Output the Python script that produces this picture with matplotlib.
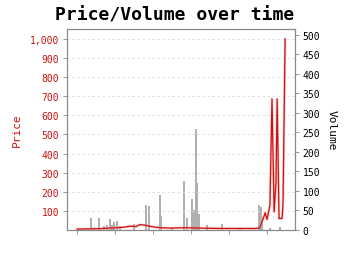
import matplotlib
matplotlib.use("Agg")
import matplotlib.pyplot as plt
from matplotlib.ticker import FuncFormatter

# Price series (day index, price)
price_days = [0, 12, 17, 21, 25, 28, 31, 33, 36, 38, 41, 44, 49, 57, 65, 75, 86, 94, 96,
              98, 99, 100, 101.5, 102.6, 103.7, 104.7, 105.3, 106.3, 107.9, 108.4, 109.5]
price_vals = [5, 7, 10, 12, 15, 20, 18, 28, 25, 20, 15, 12, 10, 12, 10, 8, 8, 8, 10,
              60, 90, 55, 130, 686, 95, 250, 686, 60, 60, 140, 1000]

# Volume bars (day index, volume)
vol_days = [3, 5, 7.4, 9, 11.6, 14.2, 15.8, 17.4, 18.4, 19.5, 21, 22.6, 30, 36.3, 37.9,
            43.7, 44.2, 50, 56.3, 57.9, 60.5, 61.6, 62.6, 63.2, 64.2, 68.4, 76.3, 85.8,
            95.8, 96.8, 97.4, 101.6, 106.8]
vol_vals = [5, 6, 30, 8, 30, 10, 12, 28, 12, 20, 22, 10, 15, 65, 62,
            90, 35, 6, 125, 30, 80, 50, 260, 120, 40, 12, 15, 5,
            65, 60, 30, 5, 8]

price_ticks = [100, 200, 300, 400, 500, 600, 700, 800, 900, 1000]
vol_ticks = [0, 50, 100, 150, 200, 250, 300, 350, 400, 450, 500]
x_ticks = [0, 20, 40, 60, 80, 100]

mono = "DejaVu Sans Mono"
red = "#cc1111"
spine_c = "#888888"

fig = plt.figure(figsize=(3.5, 2.55), dpi=100)
ax = fig.add_axes([67/350, 24/255, (295-67)/350, (231-30)/255])
ax2 = ax.twinx()
ax.set_zorder(ax2.get_zorder() + 1)
ax.patch.set_visible(False)

ax2.bar(vol_days, vol_vals, width=0.7, color="#b0b0b0", linewidth=0)
ax.plot(price_days, price_vals, color="#ff9999", lw=1.8, alpha=0.5)
ax.plot(price_days, price_vals, color=red, lw=0.9)

ax.set_xlim(-5.3, 114.7)
ax.set_ylim(0, 1052)
ax2.set_ylim(0, 515)

ax.set_yticks(price_ticks)
ax.yaxis.set_major_formatter(FuncFormatter(lambda v, p: f"{int(v):,}"))
ax2.set_yticks(vol_ticks)
ax.set_xticks(x_ticks)
ax.set_xticklabels([])

ax.grid(axis="y", color="#dddddd", linestyle=(0, (3, 3)), lw=0.6)
ax.set_axisbelow(True)

for a in (ax, ax2):
    for s in a.spines.values():
        s.set_color(spine_c)
        s.set_linewidth(0.8)
    a.tick_params(length=3, width=0.6, color=spine_c, pad=2.5)

ax.tick_params(axis="y", labelcolor=red, labelsize=7)
ax2.tick_params(axis="y", labelcolor="black", labelsize=7)
for lab in ax.get_yticklabels() + ax2.get_yticklabels():
    lab.set_family(mono)

ax.set_ylabel("Price", color=red, fontsize=8, family=mono, labelpad=6)
ax2.set_ylabel("Volume", color="black", fontsize=8, family=mono, rotation=-90, labelpad=12)

fig.suptitle("Price/Volume over time", x=0.5, y=0.975, fontsize=13,
             fontweight="bold", family=mono)

fig.savefig("out.png", dpi=100)
